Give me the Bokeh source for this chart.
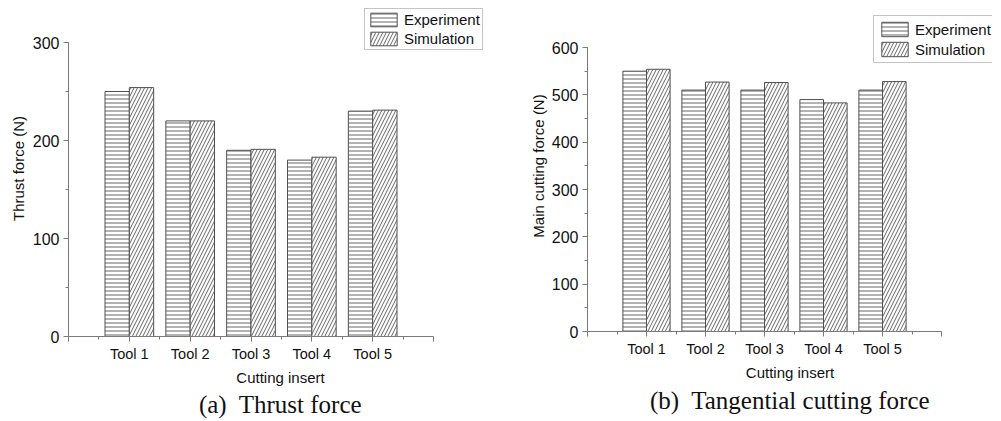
from bokeh.plotting import figure
from bokeh.layouts import row, column
from bokeh.models import FixedTicker, Legend, LegendItem, Title, Range1d
from bokeh.embed import file_html
from bokeh.resources import INLINE

tools = ["Tool 1", "Tool 2", "Tool 3", "Tool 4", "Tool 5"]
thrust_exp = [250, 220, 190, 180, 230]
thrust_sim = [254, 220, 191, 183, 231]
main_exp = [550, 510, 510, 490, 510]
main_sim = [554, 527, 526, 483, 528]

AX = "#7a7a7a"
FONT = "Liberation Sans"
TXT = "#111111"


def make(exp, sim, ymax, ylabel, caption, fig_w, fig_h, left, bottom,
         frame_w, axis_w, axis_top, axis_bottom, leg_loc, leg_pad, leg_row,
         xlabel_standoff, ylabel_standoff, cap_standoff):
    # the frame is larger than the axes so that the legend fits inside it
    x_end = 6 * frame_w / axis_w
    y_end = ymax * axis_bottom / (axis_bottom - axis_top)
    p = figure(width=fig_w, height=fig_h, output_backend="svg", toolbar_location=None,
               x_range=Range1d(0, x_end), y_range=Range1d(0, y_end),
               min_border_left=left, min_border_right=0,
               min_border_top=0, min_border_bottom=bottom)
    p.outline_line_color = None
    p.grid.visible = False
    p.background_fill_color = "white"
    xs = list(range(1, len(tools) + 1))
    r1 = p.vbar(x=[x - 0.2 for x in xs], top=exp, width=0.4, bottom=0,
                fill_color="white", line_color="#505050", line_width=1,
                hatch_pattern="horizontal_line", hatch_scale=4, hatch_color="#666666",
                hatch_weight=1)
    r2 = p.vbar(x=[x + 0.2 for x in xs], top=sim, width=0.4, bottom=0,
                fill_color="white", line_color="#505050", line_width=1,
                hatch_pattern="right_diagonal_line", hatch_scale=7, hatch_color="#666666",
                hatch_weight=1)
    xa = p.xaxis[0]
    xa.bounds = (0, 6)
    xa.ticker = FixedTicker(ticks=[0, 1, 2, 3, 4, 5, 6],
                            minor_ticks=[0.5, 1.5, 2.5, 3.5, 4.5, 5.5])
    xa.major_label_overrides = {0: "", 6: "", 1: tools[0], 2: tools[1], 3: tools[2],
                                4: tools[3], 5: tools[4]}
    xa.axis_label = "Cutting insert"
    ya = p.yaxis[0]
    ya.bounds = (0, ymax)
    ya.ticker = FixedTicker(ticks=list(range(0, ymax + 1, 100)),
                            minor_ticks=list(range(0, ymax + 1, 50)))
    ya.axis_label = ylabel
    for a in (xa, ya):
        a.axis_line_color = AX
        a.major_tick_line_color = AX
        a.minor_tick_line_color = AX
        a.major_tick_out = 5
        a.major_tick_in = 0
        a.minor_tick_out = 3
        a.minor_tick_in = 0
        a.major_label_text_font = FONT
        a.major_label_text_color = TXT
        a.axis_label_text_font = FONT
        a.axis_label_text_font_size = "15px"
        a.axis_label_text_font_style = "normal"
        a.axis_label_text_color = TXT
    xa.major_label_text_font_size = "14.5px"
    ya.major_label_text_font_size = "16px"
    xa.major_label_standoff = 4
    xa.axis_label_standoff = xlabel_standoff
    ya.major_label_standoff = 4
    ya.axis_label_standoff = ylabel_standoff

    legend = Legend(items=[LegendItem(label="Experiment", renderers=[r1]),
                           LegendItem(label="Simulation", renderers=[r2])],
                    location=leg_loc)
    legend.border_line_color = "#8a8a8a"
    legend.border_line_width = 1
    legend.background_fill_alpha = 1
    legend.label_text_font = FONT
    legend.label_text_font_size = "15px"
    legend.label_text_color = TXT
    legend.glyph_width = 33
    legend.glyph_height = leg_row
    legend.label_height = leg_row
    legend.spacing = 2
    legend.padding = leg_pad
    legend.margin = 0
    legend.label_standoff = 4
    p.add_layout(legend, "center")

    t = Title(text=caption, text_font="Liberation Serif", text_font_size="25px",
              text_font_style="normal", text_color=TXT, align="center",
              standoff=cap_standoff)
    p.add_layout(t, "below")
    return p


# left: axes page x 68..433 (0..6), y 42 (300) .. 336 (0); frame top at page top
p1 = make(thrust_exp, thrust_sim, 300, "Thrust force (N)", "(a)\u00a0 Thrust force",
          fig_w=492, fig_h=419, left=68, bottom=83,
          frame_w=424, axis_w=365, axis_top=42, axis_bottom=336,
          leg_loc=(296, 286), leg_pad=2, leg_row=17,
          xlabel_standoff=4, ylabel_standoff=3, cap_standoff=0)
# right: axes page x 587..941 (0..6), y 47 (600) .. 331 (0)
p2 = make(main_exp, main_sim, 600, "Main cutting force (N)",
          "(b)\u00a0 Tangential cutting force",
          fig_w=500, fig_h=419, left=95, bottom=88,
          frame_w=405, axis_w=354, axis_top=47, axis_bottom=331,
          leg_loc=(286, 268), leg_pad=4, leg_row=18,
          xlabel_standoff=4, ylabel_standoff=2, cap_standoff=3)

layout = row(column(p1), column(p2))
open("out.html", "w").write(file_html(layout, INLINE))
